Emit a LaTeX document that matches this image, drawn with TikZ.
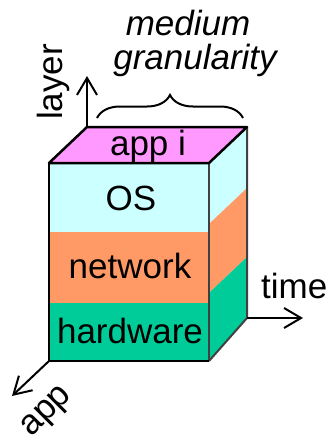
\documentclass[tikz,border=0pt]{standalone}
\usepackage{fontspec}
\setmainfont{Liberation Sans}
\usetikzlibrary{arrows.meta,decorations.pathreplacing}
\definecolor{apppink}{HTML}{FF99FF}
\definecolor{oscyan}{HTML}{CCFFFF}
\definecolor{netorange}{HTML}{FF9966}
\definecolor{hwgreen}{HTML}{00CC99}
\definecolor{edgegray}{HTML}{404040}
\tikzset{
  lbl/.style={font=\fontsize{35}{40}\selectfont, inner sep=0pt},
  axis/.style={line width=2pt, -{Straight Barb[length=17pt,width=20pt,line width=2pt]}},
  edge/.style={line width=2.5pt, line join=round},
  sideedge/.style={line width=2pt, edgegray},
}
\begin{document}
\begin{tikzpicture}[x=1pt,y=-1pt]
\useasboundingbox (0,0) rectangle (326,439);
% cube corners
\coordinate (ftl) at (49,163);
\coordinate (ftr) at (209,163);
\coordinate (fbl) at (49,361);
\coordinate (fbr) at (209,361);
\coordinate (btl) at (87,127);
\coordinate (btr) at (247,127);
\coordinate (bbr) at (247,318);
% side face bands
\fill[oscyan] (ftr) -- (btr) -- (247,188) -- (209,224) -- cycle;
\fill[netorange] (209,224) -- (247,188) -- (247,257) -- (209,293) -- cycle;
\fill[hwgreen] (209,293) -- (247,257) -- (bbr) -- (fbr) -- cycle;
% front face bands
\fill[oscyan] (ftl) rectangle (209,232);
\fill[netorange] (49,232) rectangle (209,303);
\fill[hwgreen] (49,303) rectangle (fbr);
% top face
\fill[apppink] (ftl) -- (btl) -- (btr) -- (ftr) -- cycle;
% edges
\draw[sideedge] (ftr) -- (fbr);
\draw[sideedge] (btr) -- (bbr) -- (fbr);
\draw[edge] (ftr) -- (ftl) -- (btl) -- (btr) -- cycle;
\draw[edge] (ftl) -- (fbl) -- (fbr);
% axes
\coordinate (layertip) at (87,76);
\coordinate (timetip) at (303,318);
\coordinate (apptip) at (12,396);
\draw[axis] (btl) -- (layertip);
\draw[axis] (bbr) -- (timetip);
\draw[axis] (fbl) -- (apptip);
% brace over the top face
\coordinate (bl) at (97,118);
\coordinate (br) at (243,118);
\draw[line width=2pt, decorate, decoration={brace, amplitude=23pt}] (bl) -- (br);
% labels
\node[lbl, anchor=base] (appi) at (148,155) {app i};
\node[lbl, anchor=base] (os) at (131,210) {OS};
\node[lbl, anchor=base] (net) at (130,278) {network};
\node[lbl, anchor=base] (hw) at (130,343) {hardware};
\node[lbl, anchor=base, rotate=90] (layer) at (62,82) {layer};
\node[lbl, anchor=base west] (time) at (261,298) {time};
\node[lbl, anchor=base, rotate=45] (app) at (52,417) {app};
\node[lbl, anchor=base, font=\fontsize{35}{40}\selectfont\itshape] (med) at (188,35) {medium};
\node[lbl, anchor=base, font=\fontsize{35}{40}\selectfont\itshape] (gran) at (195,69) {granularity};
\end{tikzpicture}
\end{document}
